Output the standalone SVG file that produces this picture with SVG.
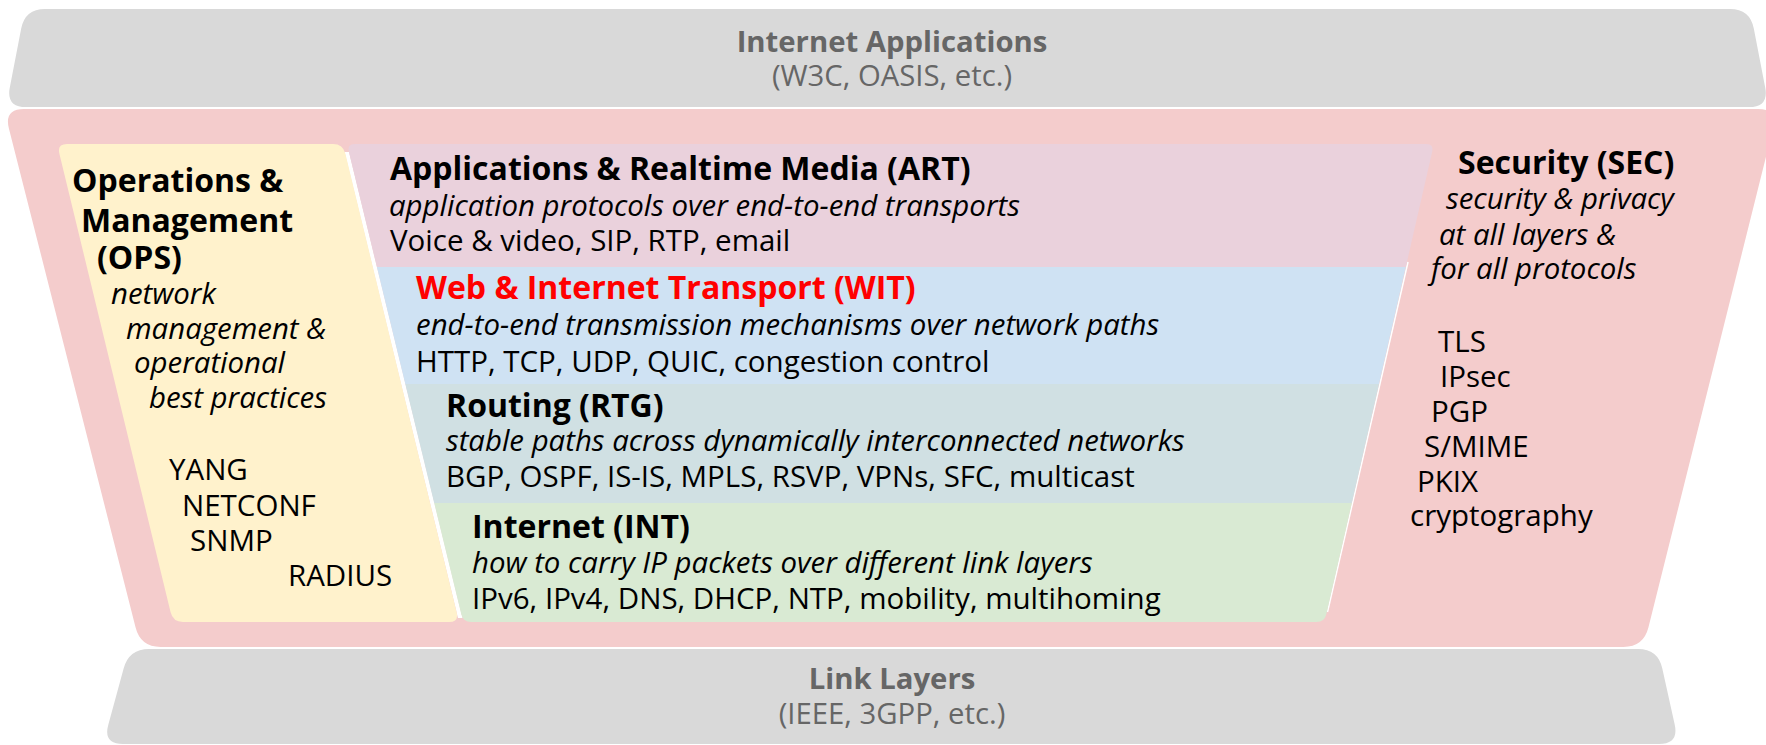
<svg xmlns="http://www.w3.org/2000/svg" width="1766" height="745" viewBox="0 0 1766 745">
<style>
text{font-family:"Open Sans","Noto Sans","Liberation Sans",sans-serif;fill:#000}
.t{font-weight:700;font-size:32px}
.g{font-weight:700;font-size:29.3px;fill:#666}
.gs{font-size:29.3px;fill:#666}
.i{font-style:italic;font-size:29.4px}
.r{font-size:29.5px}
.red{fill:#ff0000}
</style>
<rect width="1766" height="745" fill="#fff"/>
<g id="internet-applications">
<path d="M45,9 L1730,9 Q1750,9 1753.8,28.6 L1765.2,87.4 Q1769,107 1749,107 L26,107 Q6,107 9.8,87.4 L21.2,28.6 Q25,9 45,9 Z" fill="#d9d9d9"/>
<text class="g" x="892" y="52" text-anchor="middle">Internet Applications</text>
<text class="gs" x="892" y="86" text-anchor="middle">(W3C, OASIS, etc.)</text>
</g>
<g id="sec">
<path d="M24,109 L1758,109 Q1778,109 1773.1,128.4 L1648.4,627.6 Q1643.5,647 1623.5,647 L160.5,647 Q140.5,647 135.6,627.6 L8.9,128.4 Q4,109 24,109 Z" fill="#f4cccc"/>
<text class="t" x="1458" y="174">Security (SEC)</text>
<text class="i" x="1446" y="209">security &amp; privacy</text>
<text class="i" x="1439" y="245">at all layers &amp;</text>
<text class="i" x="1431" y="279">for all protocols</text>
<text class="r" x="1438" y="352">TLS</text>
<text class="r" x="1440" y="387">IPsec</text>
<text class="r" x="1431" y="422">PGP</text>
<text class="r" x="1424" y="457">S/MIME</text>
<text class="r" x="1417" y="492">PKIX</text>
<text class="r" x="1410" y="526">cryptography</text>
</g>
<path d="M344.5,152 L349,152 L462.5,618 L458,618 Z" fill="#fff"/>
<path d="M1408,262 L1327.5,612" fill="none" stroke="#fff" stroke-width="1.5"/>
<g id="ops">
<path d="M67,144 L333,144 Q343,144 345.4,153.7 L456.6,612.3 Q459,622 449,622 L183,622 Q173,622 170.6,612.3 L59.4,153.7 Q57,144 67,144 Z" fill="#fff2cc"/>
<text class="t" x="72" y="192">Operations &amp;</text>
<text class="t" x="81" y="232">Management</text>
<text class="t" x="97" y="269">(OPS)</text>
<text class="i" x="111" y="304">network</text>
<text class="i" x="126" y="339">management &amp;</text>
<text class="i" x="134" y="373">operational</text>
<text class="i" x="149" y="408">best practices</text>
<text class="r" x="169" y="480">YANG</text>
<text class="r" x="182" y="516">NETCONF</text>
<text class="r" x="190" y="551">SNMP</text>
<text class="r" x="288" y="586">RADIUS</text>
</g>
<g id="art">
<path d="M355,144 L1426,144 Q1434,144 1432.2,151.8 L1405.8,267 L376.9,267 L348.9,151.8 Q347,144 355,144 Z" fill="#ead1dc"/>
<text class="t" x="390" y="180">Applications &amp; Realtime Media (ART)</text>
<text class="i" x="389" y="216">application protocols over end-to-end transports</text>
<text class="r" x="390" y="251">Voice &amp; video, SIP, RTP, email</text>
</g>
<g id="wit">
<path d="M376.9,267 L1405.8,267 L1379,384 L405.3,384 Z" fill="#cfe2f3"/>
<text class="t red" x="416" y="299">Web &amp; Internet Transport (WIT)</text>
<text class="i" x="416" y="335">end-to-end transmission mechanisms over network paths</text>
<text class="r" x="416" y="372">HTTP, TCP, UDP, QUIC, congestion control</text>
</g>
<g id="rtg">
<path d="M405.3,384 L1379,384 L1351.8,503 L434.2,503 Z" fill="#d0e0e3"/>
<text class="t" x="446" y="417">Routing (RTG)</text>
<text class="i" x="446" y="451">stable paths across dynamically interconnected networks</text>
<text class="r" x="446" y="487">BGP, OSPF, IS-IS, MPLS, RSVP, VPNs, SFC, multicast</text>
</g>
<g id="int">
<path d="M434.2,503 L1351.8,503 L1326.3,614.2 Q1324.5,622 1316.5,622 L471.2,622 Q463.2,622 461.3,614.2 Z" fill="#d9ead3"/>
<text class="t" x="472" y="538">Internet (INT)</text>
<text class="i" x="472" y="573">how to carry IP packets over different link layers</text>
<text class="r" x="472" y="609">IPv6, IPv4, DNS, DHCP, NTP, mobility, multihoming</text>
</g>
<g id="link-layers">
<path d="M149,649 L1638,649 Q1658,649 1662.3,668.5 L1674.7,724.5 Q1679,744 1659,744 L123,744 Q103,744 108.3,724.7 L123.7,668.3 Q129,649 149,649 Z" fill="#d9d9d9"/>
<text class="g" x="892" y="689" text-anchor="middle">Link Layers</text>
<text class="gs" x="892" y="724" text-anchor="middle">(IEEE, 3GPP, etc.)</text>
</g>
<g id="connectors"/>
</svg>
